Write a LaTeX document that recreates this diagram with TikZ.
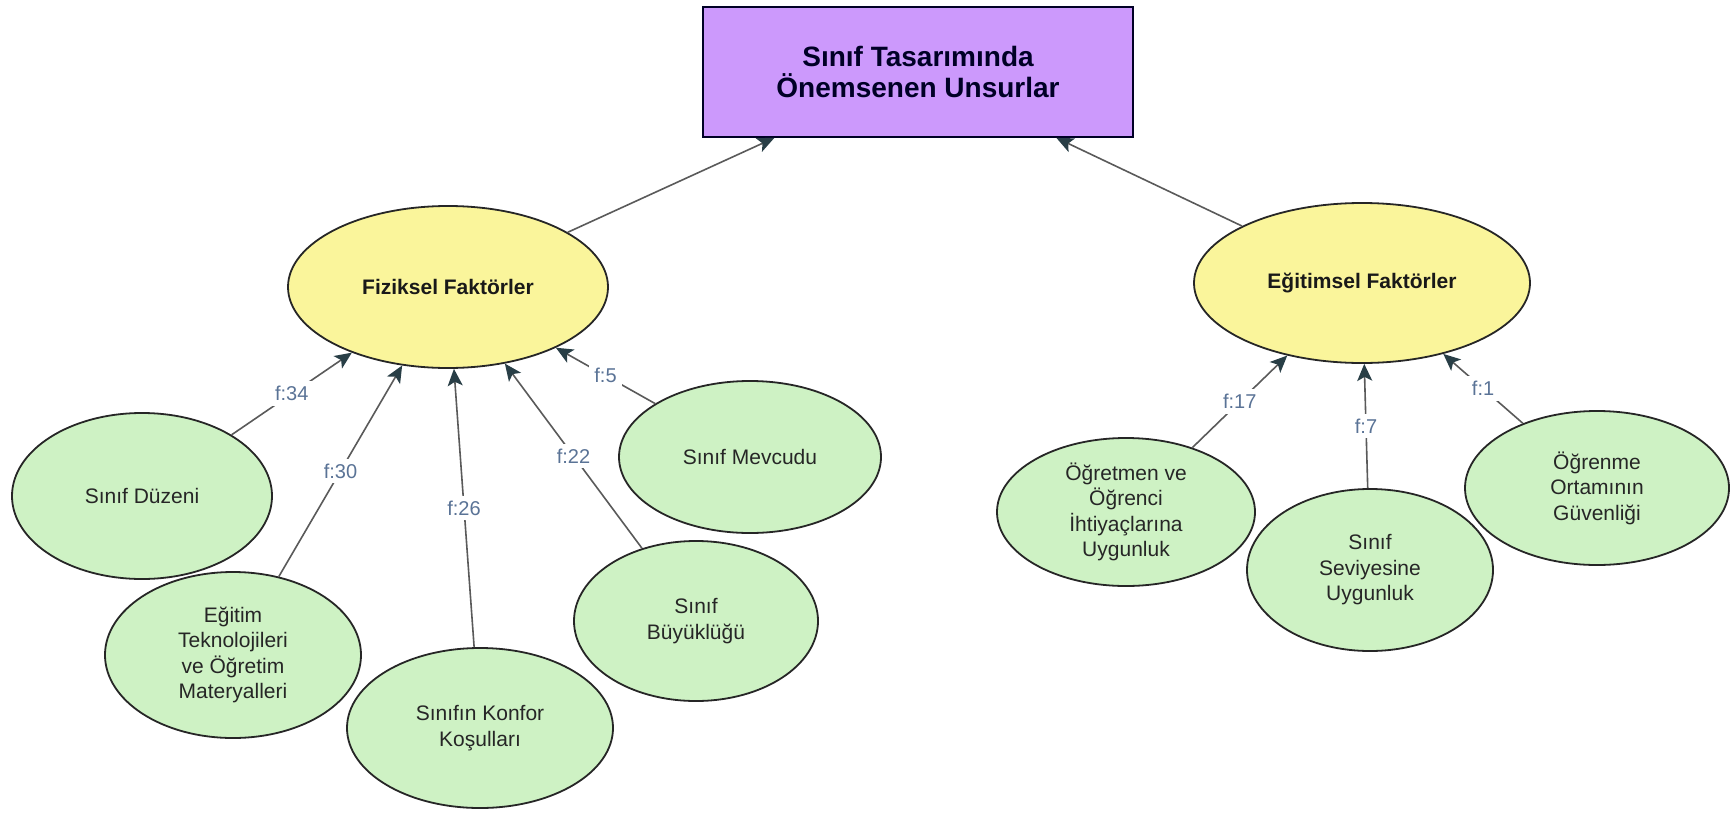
\documentclass[tikz,border=0pt]{standalone}
\usepackage{fontspec}
\setmainfont{Liberation Sans}
\usetikzlibrary{shapes.geometric,arrows.meta}
\definecolor{boxpurple}{RGB}{204,153,252}
\definecolor{ovalyellow}{RGB}{250,245,155}
\definecolor{ovalgreen}{RGB}{206,242,196}
\definecolor{edgegray}{RGB}{90,90,90}
\definecolor{tipslate}{RGB}{40,62,70}
\definecolor{lblblue}{RGB}{90,115,150}

\begin{document}
\begin{tikzpicture}[x=1pt,y=-1pt,
  main/.style={ellipse,draw=black!85,line width=1.8pt,fill=ovalyellow,inner sep=0pt,text=black!90,font=\fontsize{21}{24}\selectfont\bfseries},
  sub/.style={ellipse,draw=black!85,line width=1.8pt,fill=ovalgreen,inner sep=0pt,align=center,text=black!85,font=\fontsize{21}{25.5}\selectfont},
  conn/.style={draw=edgegray,line width=1.6pt,-{Stealth[length=17pt,width=15pt,inset=4pt,color=tipslate]}},
  lbl/.style={fill=white,inner sep=5pt,text=lblblue,font=\fontsize{20}{20}\selectfont}]
\useasboundingbox (0,0) rectangle (1733,814);
\fill[white] (0,0) rectangle (1733,814);

\node (root) at (918,72) [draw=black!85!blue,line width=1.8pt,fill=boxpurple,minimum width=430pt,minimum height=130pt,align=center,text=black!85!blue,font=\fontsize{28}{31}\selectfont\bfseries] {Sınıf Tasarımında\\Önemsenen Unsurlar};

\node (fiz) at (448,287) [main,minimum width=320pt,minimum height=162pt] {Fiziksel Faktörler};
\node (egt) at (1362,283) [main,minimum width=336pt,minimum height=160pt] {Eğitimsel Faktörler};

\node (f1) at (142,496) [sub,minimum width=260pt,minimum height=166pt] {Sınıf Düzeni};
\node (f2) at (233,655) [sub,minimum width=256pt,minimum height=166pt] {Eğitim\\Teknolojileri\\ve Öğretim\\Materyalleri};
\node (f3) at (480,728) [sub,minimum width=266pt,minimum height=160pt] {Sınıfın Konfor\\Koşulları};
\node (f4) at (696,621) [sub,minimum width=244pt,minimum height=160pt] {Sınıf\\Büyüklüğü};
\node (f5) at (750,457) [sub,minimum width=262pt,minimum height=152pt] {Sınıf Mevcudu};

\node (e1) at (1126,512) [sub,minimum width=258pt,minimum height=148pt] {Öğretmen ve\\Öğrenci\\İhtiyaçlarına\\Uygunluk};
\node (e2) at (1370,570) [sub,minimum width=246pt,minimum height=162pt] {Sınıf\\Seviyesine\\Uygunluk};
\node (e3) at (1597,488) [sub,minimum width=264pt,minimum height=154pt] {Öğrenme\\Ortamının\\Güvenliği};

\draw[conn] (fiz) -- (root);
\draw[conn] (egt) -- (root);

\foreach \n/\f in {f1/34,f2/30,f3/26,f4/22,f5/5}
  \draw[conn] (\n) -- node[lbl] {f:\f} (fiz);
\foreach \n/\f in {e1/17,e2/7,e3/1}
  \draw[conn] (\n) -- node[lbl] {f:\f} (egt);
\end{tikzpicture}
\end{document}
